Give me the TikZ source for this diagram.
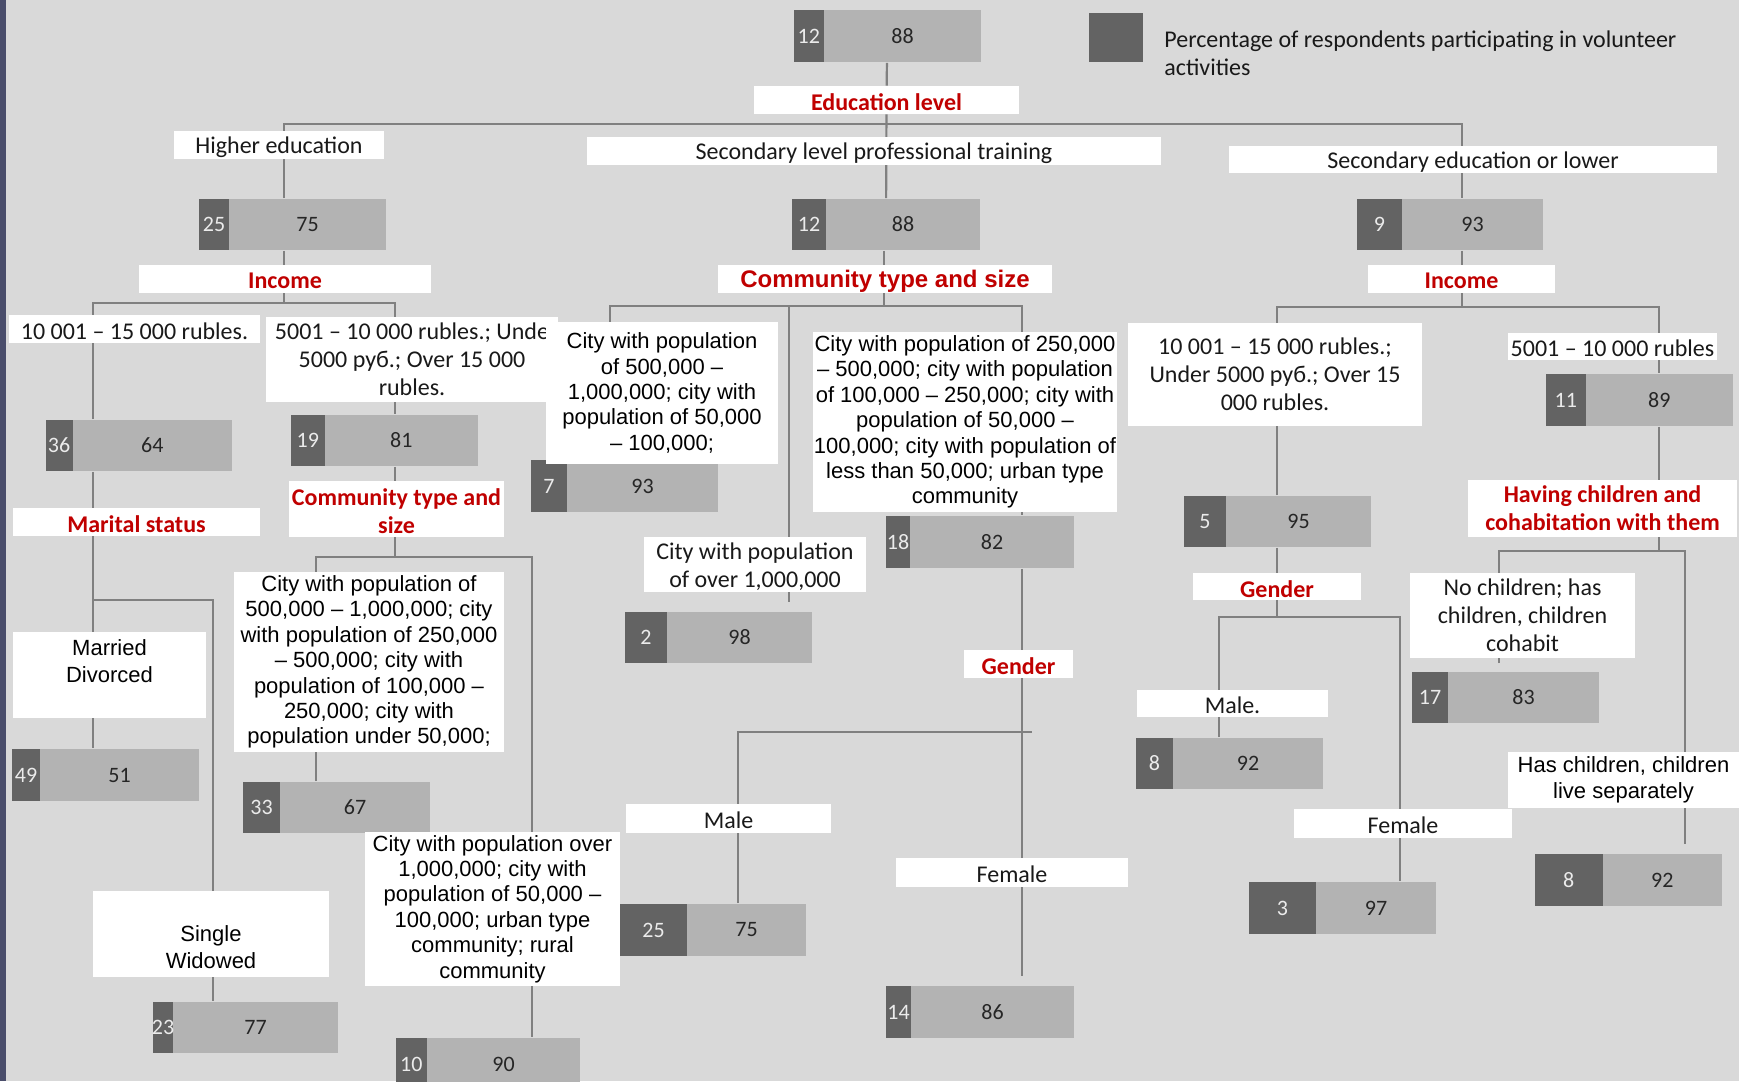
\documentclass[tikz,border=0pt]{standalone}
\usepackage{fontspec}
\setmainfont{Carlito}
\newfontfamily\arialfont{Liberation Sans}
\usetikzlibrary{fit}

\definecolor{bggray}{HTML}{D9D9D9}
\definecolor{segdark}{HTML}{636363}
\definecolor{seglight}{HTML}{B3B3B3}
\definecolor{wiregray}{HTML}{808080}
\definecolor{lblred}{HTML}{C00000}
\definecolor{stripblue}{HTML}{4A4D6B}

\pgfdeclarelayer{bg}
\pgfdeclarelayer{wires}
\pgfsetlayers{bg,wires,main}

% bar: name, x-left, x-split, x-right, y-top, y-bottom, dark value, light value
\newcommand{\pctbar}[8]{%
  \node[segl, fit={(#3,#5) (#4,#6)}] (#1l) {};
  \node[segd, fit={(#2,#5) (#3,#6)}] (#1d) {};
  \node[inner sep=0pt, fit={(#1d) (#1l)}] (#1) {};
  \node[numd] (#1dn) at (#1d) {#7};
  \node[numl] (#1ln) at (#1l) {#8};
}
% white box: name, corner, corner, text style, text
\newcommand{\labbox}[5]{%
  \node[wbox, fit={(#2) (#3)}] (#1) {};
  \node[#4] (#1t) at (#1) {#5};
}

\begin{document}
\begin{tikzpicture}[x=0.5pt, y=-0.5pt,
  wbox/.style={fill=white, inner sep=0pt},
  segd/.style={fill=segdark, inner sep=0pt},
  segl/.style={fill=seglight, inner sep=0pt},
  cal/.style={font=\fontsize{12}{14}\selectfont, text=black!90, align=center, inner sep=0pt},
  cal1/.style={cal, yshift=-1.1pt},
  ari/.style={font=\arialfont\fontsize{11}{12.7}\selectfont, text=black, align=center, inner sep=0pt},
  ariw/.style={ari, font=\arialfont\fontsize{11}{13.8}\selectfont},
  redlbl/.style={font=\bfseries\fontsize{12}{14}\selectfont, text=lblred, align=center, inner sep=0pt},
  red1/.style={redlbl, yshift=-1.1pt},
  numd/.style={font=\fontsize{11}{13}\selectfont, text=white!92!black, inner sep=0pt},
  numl/.style={font=\fontsize{11}{13}\selectfont, text=black!85, inner sep=0pt},
  wire/.style={draw=wiregray, line width=1.1pt}]

\useasboundingbox (0,0) rectangle (1739,1081);
\begin{pgfonlayer}{bg}
  \fill[bggray] (0,0) rectangle (1739,1081);
  \fill[stripblue] (0,0) rectangle (6,1081);
\end{pgfonlayer}

% legend
\node[segd, fit={(1089,13) (1143,62)}] (legsq) {};
\node[cal, align=left, anchor=west] (legtxt) at (1164,53)
  {Percentage of respondents participating in volunteer\\activities};

% bars
\pctbar{top}{793.5}{824}{981}{10}{62}{12}{88}
\pctbar{b25}{199}{229}{386}{199}{250}{25}{75}
\pctbar{b12}{792}{826}{980}{199}{250}{12}{88}
\pctbar{b9}{1357}{1402}{1543}{199}{250}{9}{93}
\pctbar{b36}{45.5}{72.5}{232}{420}{471}{36}{64}
\pctbar{b19}{291}{324.5}{478}{415}{466}{19}{81}
\pctbar{b7}{531}{567}{718}{460}{512}{7}{93}
\pctbar{b18}{886}{910}{1074}{516}{568}{18}{82}
\pctbar{b11}{1546}{1585.5}{1733}{374}{426}{11}{89}
\pctbar{b5}{1184}{1226}{1371}{496}{547}{5}{95}
\pctbar{b2}{625}{667}{812}{612}{663}{2}{98}
\pctbar{b17}{1412}{1448}{1599}{672}{723}{17}{83}
\pctbar{b49}{12}{40}{199}{749}{801}{49}{51}
\pctbar{b33}{243}{280}{430}{782}{833}{33}{67}
\pctbar{b8a}{1136}{1173}{1323}{738}{789}{8}{92}
\pctbar{b25m}{620}{687}{806}{904}{956}{25}{75}
\pctbar{b3}{1249}{1316}{1436}{882}{934}{3}{97}
\pctbar{b8b}{1535}{1602.5}{1722}{854}{906}{8}{92}
\pctbar{b14}{886}{911}{1074}{986}{1038}{14}{86}
\pctbar{b23}{153}{173}{338}{1002}{1053}{23}{77}
\pctbar{b10}{395.5}{427}{580}{1038}{1090}{10}{90}

% boxes, top levels
\labbox{eduL}{754,86}{1019,114}{red1}{Education level}
\labbox{highEd}{174,131}{384,159}{cal1}{Higher education}
\labbox{secProf}{587,137}{1161,165}{cal1}{Secondary level professional training}
\labbox{secLow}{1229,146}{1717,173}{cal1}{Secondary education or lower}
\labbox{incA}{139,265}{431,293}{red1}{Income}
\labbox{comB}{718,265}{1052,293}{red1, font=\arialfont\bfseries\fontsize{12}{14}\selectfont}{Community type and size}
\labbox{incC}{1368,265}{1555,293}{red1}{Income}

% higher education branch
\labbox{incA1}{9,315}{260,343}{cal1}{10 001 – 15 000 rubles.}
\labbox{incA2}{266,317}{558,402}{cal}{5001 – 10 000 rubles.; Unde\\5000 руб.; Over 15 000\\rubles.}
\labbox{marital}{13,508}{260,536}{red1}{Marital status}
\labbox{comA}{289,481}{504,537}{redlbl, yshift=-1pt}{Community type and\\size}
\labbox{married}{13,632}{206,718}{ariw, yshift=7pt}{Married\\Divorced}
\labbox{single}{93,891}{329,977}{ariw, yshift=-6.5pt}{Single\\Widowed}
\labbox{cityA1}{234,572}{504,752}{ari}{City with population of\\500,000 – 1,000,000; city\\with population of 250,000\\– 500,000; city with\\population of 100,000 –\\250,000; city with\\population under 50,000;}
\labbox{cityA2}{365,832}{620,986}{ari}{City with population over\\1,000,000; city with\\population of 50,000 –\\100,000; urban type\\community; rural\\community}

% professional training branch
\labbox{cityB1}{546,322}{778,464}{ari}{City with population\\of 500,000 –\\1,000,000; city with\\population of 50,000\\– 100,000;}
\labbox{cityB2}{813,332}{1117,512}{ari}{City with population of 250,000\\– 500,000; city with population\\of 100,000 – 250,000; city with\\population of 50,000 –\\100,000; city with population of\\less than 50,000; urban type\\community}
\labbox{cityB3}{644,537}{866,592}{cal, yshift=-1pt}{City with population\\of over 1,000,000}
\labbox{gendB}{964,650}{1073,678}{red1}{Gender}
\labbox{maleB}{626,804}{831,833}{cal1}{Male}
\labbox{femB}{896,858}{1128,887}{cal1}{Female}

% secondary or lower branch
\labbox{incC1}{1128,323}{1422,426}{cal}{10 001 – 15 000 rubles.;\\Under 5000 руб.; Over 15\\000 rubles.}
\labbox{incC2}{1508,333}{1717,360}{cal1}{5001 – 10 000 rubles}
\labbox{gendC}{1193,573}{1361,600}{red1}{Gender}
\labbox{maleC}{1137,690}{1328,717}{cal1}{Male.}
\labbox{femC}{1294,809}{1512,838}{cal1}{Female}
\labbox{havCh}{1468,480}{1737,537}{redlbl}{Having children and\\cohabitation  with them}
\labbox{noCh}{1410,573}{1635,658}{cal}{No children; has\\children, children\\cohabit}
\labbox{hasCh}{1508,752}{1739,808}{ari}{Has children, children\\live separately}

% connectors
\begin{pgfonlayer}{wires}
  \coordinate (busL) at (284,124);
  \coordinate (busR) at (1462,124);
  \draw[wire] (top) -- (eduL);
  \draw[wire] (eduL) -- (b12);
  \draw[wire] (busL |- b25.north) -- (busL) -- (busR) -- (busR |- b9.north);

  \coordinate (incAj) at (284,303);
  \coordinate (incAl) at (93,303);
  \coordinate (incAr) at (395,303);
  \draw[wire] (incAj |- b25.south) -- (incAj);
  \draw[wire] (incAl |- b36.north) -- (incAl) -- (incAr) -- (incAr |- b19.north);

  \coordinate (marL) at (93,600);
  \coordinate (marR) at (213,600);
  \draw[wire] (marL |- b36.south) -- (marL |- b49.north);
  \draw[wire] (marL) -- (marR) -- (marR |- b23.north);

  \coordinate (comAj) at (395,557);
  \coordinate (comAl) at (316,557);
  \coordinate (comAr) at (532,557);
  \draw[wire] (comAj |- b19.south) -- (comAj);
  \draw[wire] (comAl |- b33.north) -- (comAl) -- (comAr) -- (comAr |- b10.north);

  \coordinate (comBj) at (884,306);
  \coordinate (comBl) at (610,306);
  \coordinate (comBm) at (789,306);
  \coordinate (comBr) at (1022,306);
  \coordinate (cityB3e) at (789,602);
  \draw[wire] (comBj |- b12.south) -- (comBj);
  \draw[wire] (comBl |- b7.north) -- (comBl) -- (comBr) -- (comBr |- b18.north);
  \draw[wire] (comBm) -- (cityB3e);

  \coordinate (genBl) at (738,732);
  \coordinate (genBj) at (1022,732);
  \coordinate (genBr) at (1032,732);
  \coordinate (femBe) at (1022,976);
  \draw[wire] (genBj |- b18.south) -- (genBj) -- (femBe);
  \draw[wire] (genBl |- b25m.north) -- (genBl) -- (genBr);

  \coordinate (incCj) at (1462,307);
  \coordinate (incCl) at (1277,307);
  \coordinate (incCr) at (1659,307);
  \draw[wire] (incCj |- b9.south) -- (incCj);
  \draw[wire] (incCl |- b5.north) -- (incCl) -- (incCr) -- (incCr |- b11.north);

  \coordinate (genCj) at (1277,617);
  \coordinate (genCl) at (1219,617);
  \coordinate (genCr) at (1400,617);
  \draw[wire] (genCj |- b5.south) -- (genCj);
  \draw[wire] (genCl |- b8a.north) -- (genCl) -- (genCr) -- (genCr |- b3.north);

  \coordinate (havj) at (1659,551);
  \coordinate (havl) at (1499,551);
  \coordinate (havr) at (1685,551);
  \coordinate (noChe) at (1499,663);
  \coordinate (hasChe) at (1685,844);
  \draw[wire] (havj |- b11.south) -- (havj);
  \draw[wire] (noChe) -- (havl) -- (havr) -- (hasChe);
\end{pgfonlayer}
\end{tikzpicture}
\end{document}
